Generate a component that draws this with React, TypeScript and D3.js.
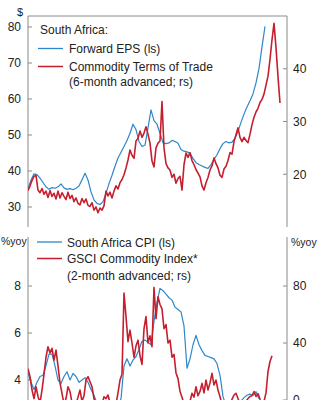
import React from "react";
import * as d3 from "d3";

// ---------- DATA ----------
// time index (periods) shared by both panels
const T_MAX = 259;

// Top panel: South Africa Forward EPS ($, left scale), sampled every 3 periods
const epsStep = 3;
const forwardEPS = [
  35.0, 37.5, 39.2, 39.0, 38.0, 36.8, 35.6, 34.9, 35.4, 35.2,
  35.6, 36.4, 35.3, 34.9, 35.1, 34.8, 35.2, 35.8, 37.6, 39.4,
  37.5, 34.2, 32.0, 31.0, 30.7, 31.5, 33.8, 36.5, 38.8, 41.3,
  43.6, 45.2, 46.8, 48.5, 50.5, 53.0, 51.5, 48.2, 46.8, 47.2,
  52.0, 57.0, 54.0, 53.0, 50.5, 47.8, 47.6, 47.8, 48.5, 48.2,
  47.7, 46.0, 45.5, 45.3, 44.9, 43.5, 42.3, 41.8, 41.4, 41.0,
  40.7, 41.8, 43.2, 44.5, 46.2, 47.6, 48.2, 47.8, 48.0, 49.1,
  51.0, 53.5, 55.8, 57.8, 59.5, 61.4, 64.5, 68.5, 74.5, 80.2,
];

// Top panel: Commodity Terms of Trade (6-month advanced, right scale), every 2 periods
const totStep = 2;
const termsOfTrade = [
  16.9, 17.8, 18.8, 19.6, 19.8, 17.0, 16.5, 17.3, 16.2, 16.8,
  15.6, 16.9, 15.8, 16.4, 15.3, 16.8, 15.5, 16.5, 15.8, 15.2,
  16.6, 15.4, 16.0, 14.8, 15.5, 14.5, 14.2, 15.4, 14.6, 15.3,
  14.1, 13.9, 14.6, 13.2, 13.8, 12.7, 13.6, 13.2, 14.0, 16.8,
  15.9, 16.6, 15.5, 16.8, 17.8, 17.2, 18.4, 19.0, 19.9, 21.2,
  22.7, 24.6, 23.6, 23.0, 26.3, 26.8, 28.2, 27.0, 27.8, 29.0,
  27.6, 25.9, 22.5, 21.4, 25.0, 25.9, 26.3, 33.8, 25.0, 22.0,
  21.2, 20.8, 19.4, 20.0, 18.3, 19.2, 19.6, 17.0, 21.8, 24.0,
  23.2, 24.1, 22.6, 21.8, 20.9, 20.2, 19.5, 17.8, 17.0, 18.4,
  19.4, 20.8, 21.6, 23.1, 22.0, 21.2, 19.8, 19.4, 21.0, 21.5,
  22.6, 24.1, 23.8, 26.2, 27.5, 28.8, 27.0, 26.2, 27.0, 26.4,
  26.0, 27.6, 29.4, 30.8, 31.8, 32.5, 33.6, 34.2, 35.2, 36.9,
  38.6, 41.8, 45.5, 48.6, 44.0, 38.5, 33.5,
];

// Bottom panel: South Africa CPI (%yoy, left scale), every 3 periods
const cpiStep = 3;
const saCPI = [
  4.3, 3.9, 3.6, 3.9, 4.15, 4.2, 4.6, 5.1, 5.1, 4.6,
  4.0, 3.85, 4.15, 4.35, 4.0, 4.28, 4.15, 3.9, 4.0, 4.1,
  3.9, 3.6, 3.35, 3.0, 2.8, 2.6, 2.5, 2.6, 2.7, 2.8,
  2.9, 3.2, 4.6, 4.9, 4.6, 4.85, 5.0, 5.3, 5.65, 5.7,
  5.6, 5.5, 6.5, 7.3, 7.9, 7.8, 7.65, 7.5, 7.4, 7.1,
  7.0, 6.9, 6.3, 4.5, 4.9, 5.5, 5.9, 5.5, 5.25, 5.05,
  5.0, 4.95, 4.9, 4.7, 4.2, 3.3, 2.9, 2.8, 2.9, 3.0,
  3.0, 3.1, 3.25, 3.35, 3.4, 3.35, 3.5, 3.2,
];

// Bottom panel: GSCI Commodity Index (%yoy, 2-month advanced, right scale), every 2 periods
const gsciStep = 2;
const gsciIndex = [
  22, 16.4, 7.0, 1.0, 9.3, 2.5, -2, 7.0, 18.0, 30.0,
  37.4, 33.0, 36.3, 28.0, 35.0, 24.0, 12.0, 4.7, -3, 1.0,
  9.3, 6.0, -2, -5, -3, 2.0, 7.0, -1, 3.0, 14.0,
  16.4, 12.8, 9.3, 1.0, -4, -6, -5, -3, 2.3, 1.0,
  3.5, -2, -4, -6, -3, 5.0, 14.0, 18.0, 75.0, 58.5,
  41.0, 49.0, 40.0, 30.0, 38.0, 42.0, 31.0, 25.0, 50.0, 58.5,
  40.0, 45.0, 37.4, 79.0, 57.0, 72.5, 67.0, 64.0, 50.0, 53.0,
  40.0, 42.0, 30.0, 32.0, 19.0, 15.0, 6.0, 2.0, -3, -6,
  -4, -1, 4.7, 2.0, 9.3, 3.0, 6.0, 11.7, 5.0, 14.0,
  7.0, 12.0, 18.7, 10.5, 14.0, 7.0, 2.3, -3, -6, -8,
  -5, -3, 0.5, 3.5, 4.7, 1.0, -2, -4, -3, -1,
  1.0, 2.5, 3.0, 5.9, 2.5, 4.5, 0.5, -3, -1, 5.0,
  20.0, 27.0, 31.0,
];

// tick labels
const topLeftTicks = [80, 70, 60, 50, 40, 30];
const topRightTicks = [40, 30, 20];
const botLeftTicks = [8, 6, 4];
const botRightTicks = [80, 40, 0];

const topLegend = ["South Africa:", "Forward EPS (ls)", "Commodity Terms of Trade", "(6-month advanced; rs)"];
const botLegend = ["South Africa CPI (ls)", "GSCI Commodity Index*", "(2-month advanced; rs)"];

// ---------- STYLE ----------
const BLUE = "#2f87c9";
const RED = "#c51f2f";
const AXIS = "#8a8a8a";
const TEXT = "#222";
const FONT = "'Liberation Sans', Arial, Helvetica, sans-serif";

export default function App() {
  const W = 324;
  const H = 400;
  const L = 28;
  const R = 287;

  const x = d3.scaleLinear().domain([0, T_MAX]).range([L, R]);

  // top panel
  const tTop = 16;
  const tBot = 227;
  const yTL = d3.scaleLinear().domain([24.44, 83.06]).range([tBot, tTop]);
  const yTR = d3.scaleLinear().domain([10, 50]).range([tBot, tTop]);

  // bottom panel
  const bTop = 237;
  const yBL = d3.scaleLinear().domain([2, 10]).range([427, 239]);
  const yBR = d3.scaleLinear().domain([0, 120]).range([400, 229]);

  const mk = (vals: number[], step: number, ys: d3.ScaleLinear<number, number>) =>
    d3
      .line<number>()
      .x((_, i) => x(i * step))
      .y((v) => ys(v))(vals) || "";

  const tickLen = 4;

  return (
    <svg
      width={W}
      height={H}
      style={{ position: "absolute", left: 0, top: 0, background: "#fff" }}
      fontFamily={FONT}
    >
      <defs>
        <clipPath id="clipTop">
          <rect x={L} y={tTop} width={R - L} height={tBot - tTop} />
        </clipPath>
        <clipPath id="clipBot">
          <rect x={L} y={bTop - 10} width={R - L} height={H - bTop + 10} />
        </clipPath>
      </defs>

      {/* ---------- TOP PANEL ---------- */}
      <line x1={L} x2={R} y1={tTop} y2={tTop} stroke={AXIS} strokeWidth={1} />
      <line x1={L} x2={L} y1={tTop} y2={tBot} stroke={AXIS} strokeWidth={1} />
      <line x1={R} x2={R} y1={tTop} y2={tBot} stroke={AXIS} strokeWidth={1} />
      <text x={17} y={16} fontSize={11} fill={TEXT}>$</text>
      {topLeftTicks.map((t) => (
        <g key={"tl" + t}>
          <line x1={L} x2={L + tickLen} y1={yTL(t)} y2={yTL(t)} stroke={AXIS} />
          <text x={21} y={yTL(t) + 4.3} fontSize={12} textAnchor="end" fill={TEXT}>{t}</text>
        </g>
      ))}
      {topRightTicks.map((t) => (
        <g key={"tr" + t}>
          <line x1={R - tickLen} x2={R} y1={yTR(t)} y2={yTR(t)} stroke={AXIS} />
          <text x={293} y={yTR(t) + 4.3} fontSize={12} fill={TEXT}>{t}</text>
        </g>
      ))}
      <g clipPath="url(#clipTop)">
        <path d={mk(forwardEPS, epsStep, yTL)} fill="none" stroke={BLUE} strokeWidth={1.2} strokeLinejoin="round" />
        <path d={mk(termsOfTrade, totStep, yTR)} fill="none" stroke={RED} strokeWidth={1.6} strokeLinejoin="round" />
      </g>
      {/* legend top */}
      <text x={40} y={33.5} fontSize={12} fill={TEXT}>{topLegend[0]}</text>
      <line x1={38} x2={63} y1={48.5} y2={48.5} stroke={BLUE} strokeWidth={1.3} />
      <text x={69} y={53} fontSize={12} fill={TEXT}>{topLegend[1]}</text>
      <line x1={38} x2={63} y1={66.5} y2={66.5} stroke={RED} strokeWidth={1.5} />
      <text x={69} y={71} fontSize={12} fill={TEXT}>{topLegend[2]}</text>
      <text x={69} y={86} fontSize={12} fill={TEXT}>{topLegend[3]}</text>

      {/* ---------- BOTTOM PANEL ---------- */}
      <line x1={L} x2={L} y1={bTop} y2={H} stroke={AXIS} strokeWidth={1} />
      <line x1={R} x2={R} y1={bTop} y2={H} stroke={AXIS} strokeWidth={1} />
      <text x={1} y={245} fontSize={10.5} fill={TEXT}>%yoy</text>
      <text x={291} y={246} fontSize={10.5} fill={TEXT}>%yoy</text>
      {botLeftTicks.map((t) => (
        <g key={"bl" + t}>
          <line x1={L} x2={L + tickLen} y1={yBL(t)} y2={yBL(t)} stroke={AXIS} />
          <text x={21} y={yBL(t) + 4.3} fontSize={12} textAnchor="end" fill={TEXT}>{t}</text>
        </g>
      ))}
      {botRightTicks.map((t) => (
        <g key={"br" + t}>
          <line x1={R - tickLen} x2={R} y1={yBR(t)} y2={yBR(t)} stroke={AXIS} />
          <text x={293} y={yBR(t) + 4.3} fontSize={12} fill={TEXT}>{t}</text>
        </g>
      ))}
      <g clipPath="url(#clipBot)">
        <path d={mk(saCPI, cpiStep, yBL)} fill="none" stroke={BLUE} strokeWidth={1.2} strokeLinejoin="round" />
        <path d={mk(gsciIndex, gsciStep, yBR)} fill="none" stroke={RED} strokeWidth={1.6} strokeLinejoin="round" />
      </g>
      {/* legend bottom */}
      <line x1={37} x2={62} y1={242} y2={242} stroke={BLUE} strokeWidth={1.3} />
      <text x={67} y={246.5} fontSize={12} fill={TEXT}>{botLegend[0]}</text>
      <line x1={37} x2={62} y1={258.5} y2={258.5} stroke={RED} strokeWidth={1.5} />
      <text x={67} y={263} fontSize={12} fill={TEXT}>{botLegend[1]}</text>
      <text x={67} y={279.5} fontSize={12} fill={TEXT}>{botLegend[2]}</text>
    </svg>
  );
}
